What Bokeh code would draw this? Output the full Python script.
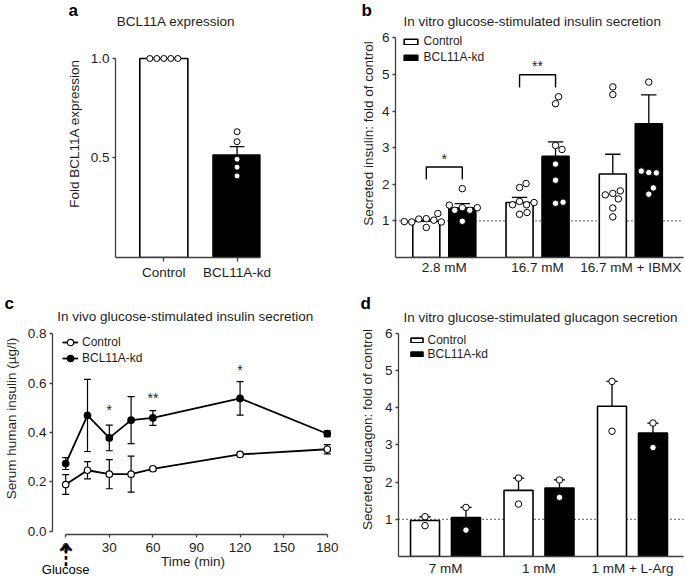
import numpy as np
from bokeh.plotting import figure
from bokeh.models import (Range1d, FixedTicker, PrintfTickFormatter, Label, Span,
                          Legend, LegendItem, LinearAxis)
from bokeh.layouts import column, row
from bokeh.embed import file_html
from bokeh.resources import INLINE
from bokeh.core.properties import value

FONT = "Liberation Sans"
TXT = "#1e1e1e"
AXC = "#404040"
FS = "13.5px"
LFS = "12px"

# ---------------- Panel a: BCL11A expression ----------------
a_categories = ["Control", "BCL11A-kd"]
a_mean = [1.0, 0.515]
a_sem = [0.0, 0.042]
a_points = [[1.0, 1.0, 1.0, 1.0, 1.0],
            [0.632, 0.582, 0.494, 0.454, 0.410]]
a_yticks = [0.5, 1.0]

# ---------------- Panel b: in vitro GSIS ----------------
b_categories = ["2.8 mM", "16.7 mM", "16.7 mM + IBMX"]
b_ctrl_mean = [0.99, 1.50, 2.28]
b_ctrl_sem = [0.04, 0.14, 0.54]
b_kd_mean = [1.36, 2.76, 3.65]
b_kd_sem = [0.11, 0.40, 0.79]
b_ctrl_points = [[1.06, 1.02, 1.05, 1.20, 0.97, 0.97, 0.98, 0.82],
                 [1.91, 2.02, 1.53, 1.44, 1.44, 1.50, 1.18, 1.23],
                 [4.66, 4.45, 1.75, 1.60, 1.71, 1.82, 1.35, 1.11]]
b_kd_points = [[1.88, 1.36, 1.29, 1.29, 1.36, 1.43, 0.99],
               [4.20, 4.39, 3.06, 2.95, 2.55, 2.11, 1.48, 1.51],
               [4.79, 2.32, 2.31, 2.36, 1.73, 1.90]]
b_sig_group = [0, 1]
b_sig_text = ["*", "**"]
b_sig_low = [2.14, 4.64]
b_sig_high = [2.47, 4.99]
b_sig_text_y = [2.68, 5.22]
b_yticks = [1, 2, 3, 4, 5, 6]

# ---------------- Panel c: in vivo GSIS ----------------
c_time = [0, 15, 30, 45, 60, 120, 180]
c_ctrl_mean = [0.189, 0.247, 0.231, 0.231, 0.253, 0.311, 0.332]
c_ctrl_sem = [0.040, 0.035, 0.059, 0.073, 0.008, 0.005, 0.019]
c_kd_mean = [0.274, 0.469, 0.378, 0.450, 0.459, 0.538, 0.395]
c_kd_sem = [0.024, 0.146, 0.052, 0.095, 0.030, 0.068, 0.012]
c_sig_time = [30, 60, 120]
c_sig_text = ["*", "**", "*"]
c_sig_y = [0.493, 0.538, 0.655]
c_xticks = [0, 30, 60, 90, 120, 150, 180]
c_yticks = [0.0, 0.2, 0.4, 0.6, 0.8]

# ---------------- Panel d: glucagon secretion ----------------
d_categories = ["7 mM", "1 mM", "1 mM + L-Arg"]
d_ctrl_mean = [0.97, 1.78, 4.04]
d_ctrl_sem = [0.10, 0.33, 0.67]
d_kd_mean = [1.05, 1.84, 3.32]
d_kd_sem = [0.27, 0.22, 0.27]
d_ctrl_points = [[1.07, 0.83], [2.11, 1.41], [4.71, 3.37]]
d_kd_points = [[1.32, 0.71], [2.06, 1.59], [3.59, 2.93]]
d_yticks = [1, 2, 3, 4, 5, 6]


# ---------------- helpers ----------------
def make_fig(W, H, bl, br, bt, bb, xr, yr, left, top):
    p = figure(width=W, height=H, x_range=Range1d(*xr), y_range=Range1d(*yr),
               output_backend="svg", toolbar_location=None,
               min_border_left=bl, min_border_right=br,
               min_border_top=bt, min_border_bottom=bb)
    p.outline_line_color = None
    p.xgrid.visible = False
    p.ygrid.visible = False
    p.background_fill_color = "white"
    p.border_fill_color = "white"
    for ax in (p.xaxis[0], p.yaxis[0]):
        ax.axis_line_color = AXC
        ax.axis_line_width = 1.3
        ax.major_tick_line_color = AXC
        ax.major_tick_line_width = 1.3
        ax.major_tick_in = 0
        ax.major_tick_out = 3
        ax.minor_tick_line_color = None
        ax.major_label_text_font = FONT
        ax.major_label_text_font_size = FS
        ax.major_label_text_color = TXT
        ax.major_label_standoff = 3
        ax.axis_label_text_font = FONT
        ax.axis_label_text_font_size = FS
        ax.axis_label_text_font_style = "normal"
        ax.axis_label_text_color = TXT
        ax.axis_label_standoff = 4
    fw = W - bl - br
    fh = H - bt - bb
    p._map = dict(kx=fw / (xr[1] - xr[0]), ky=fh / (yr[1] - yr[0]), x0=xr[0], y0=yr[0],
                  fl=left + bl, fb=top + H - bb)
    return p


def to_data(p, sx, sy):
    m = p._map
    return m["x0"] + (sx - m["fl"]) / m["kx"], m["y0"] + (m["fb"] - sy) / m["ky"]


def add_heading(p, sx, sy, text):
    x, y = to_data(p, sx, sy)
    p.add_layout(Label(x=x, y=y, text=text, text_font=FONT, text_font_size=FS,
                       text_align="center", text_baseline="middle", text_color=TXT))


def panel_letter(p, letter, left_px):
    t = p.title
    t.text = letter
    t.align = "left"
    t.offset = float(left_px - p._map["fl"])
    t.standoff = -21
    t.text_font = FONT
    t.text_font_size = "17px"
    t.text_font_style = "bold"
    t.text_color = "black"


def swarm(vals, kx, ky, diam):
    placed, offs = [], []
    for v in vals:
        sy = v * ky
        c = 0.0
        for j in range(0, 600):
            c = ((j + 1) // 2) * 0.5 * (1 if j % 2 == 1 else -1)
            if all((c - px) ** 2 + (sy - py) ** 2 >= diam ** 2 for px, py in placed):
                break
        placed.append((c, sy))
        offs.append(c / kx)
    return offs


def scatter_points(p, centers, pts, msize, lw=1.0):
    m = p._map
    xs, ys = [], []
    for xc, vals in zip(centers, pts):
        offs = swarm(vals, m["kx"], m["ky"], msize + 1.0)
        xs += [xc + o for o in offs]
        ys += list(vals)
    p.scatter(xs, ys, size=msize, marker="circle", fill_color="white",
              line_color="black", line_width=lw)


def up_errors(p, xs, mean, sem, capw, lw=1.3):
    xs = np.asarray(xs, dtype=float)
    mean = np.asarray(mean, dtype=float)
    top = mean + np.asarray(sem, dtype=float)
    p.segment(x0=xs, y0=mean, x1=xs, y1=top, line_color="black", line_width=lw)
    p.segment(x0=xs - capw / 2, y0=top, x1=xs + capw / 2, y1=top,
              line_color="black", line_width=lw)


def cat_axis(ax, labels, ticks):
    ax.ticker = FixedTicker(ticks=list(ticks))
    ax.major_label_overrides = {int(t): lab for t, lab in zip(ticks, labels)}


def make_legend(p, items, loc, gw, gh, lh, standoff):
    leg = Legend(items=items, location=loc, orientation="vertical",
                 label_text_font=FONT, label_text_font_size=LFS, label_text_color=TXT,
                 glyph_width=gw, glyph_height=gh, label_height=lh,
                 label_standoff=standoff, spacing=0, padding=0, margin=0,
                 border_line_color=None, background_fill_alpha=0)
    p.add_layout(leg)


def marker_axis(tick, text, font, size, standoff):
    ax = LinearAxis(ticker=FixedTicker(ticks=[tick]), major_label_overrides={tick: text})
    ax.axis_line_color = None
    ax.major_tick_line_color = None
    ax.minor_tick_line_color = None
    ax.major_tick_out = 0
    ax.major_tick_in = 0
    ax.major_label_standoff = standoff
    ax.major_label_text_font = font
    ax.major_label_text_font_size = size
    ax.major_label_text_color = "black"
    return ax


# ================= Panel a =================
WA, HA, BLA, BRA, BTA, BBA = 340, 290, 115, 80, 9, 33
pa = make_fig(WA, HA, BLA, BRA, BTA, BBA, (-0.66, 1.32), (0.0, 1.2462), 0, 0)
xa = np.arange(len(a_categories))
pa.vbar(x=xa[:1], top=a_mean[:1], bottom=0, width=0.656, fill_color="white",
        line_color="black", line_width=1.6)
pa.vbar(x=xa[1:], top=a_mean[1:], bottom=0, width=0.656, fill_color="black",
        line_color="black", line_width=1.6)
up_errors(pa, xa[1:], a_mean[1:], a_sem[1:], 0.2)
scatter_points(pa, xa, a_points, 6)
cat_axis(pa.xaxis[0], a_categories, xa)
pa.xaxis.major_tick_out = 4
pa.yaxis.ticker = FixedTicker(ticks=a_yticks)
pa.yaxis.formatter = PrintfTickFormatter(format="%.1f")
pa.yaxis.bounds = (0, 1.0)
pa.yaxis.axis_label = "Fold BCL11A expression"
pa.yaxis.axis_label_standoff = 6
add_heading(pa, 175.5, 20.7, "BCL11A expression")
panel_letter(pa, "a", 68)

# ================= Panel b =================
WB, HB, BLB, BRB, BTB, BBB = 345, 290, 55, 2, 9, 33
pb = make_fig(WB, HB, BLB, BRB, BTB, BBB, (-0.5233, 2.5652), (0.0, 6.772), 340, 0)
pb.add_layout(Span(location=1.0, dimension="width", line_color="black", line_width=1.4,
                   line_dash="1 3", level="underlay"))
xb = np.arange(len(b_categories))
OFFB, BWB = 0.193, 0.29
rcb = pb.vbar(x=xb - OFFB, top=b_ctrl_mean, bottom=0, width=BWB, fill_color="white",
              line_color="black", line_width=1.6)
rkb = pb.vbar(x=xb + OFFB, top=b_kd_mean, bottom=0, width=BWB, fill_color="black",
              line_color="black", line_width=1.6)
up_errors(pb, xb - OFFB, b_ctrl_mean, b_ctrl_sem, 0.165)
up_errors(pb, xb + OFFB, b_kd_mean, b_kd_sem, 0.165)
scatter_points(pb, xb - OFFB, b_ctrl_points, 6.5)
scatter_points(pb, xb + OFFB, b_kd_points, 6.5)
gx = np.asarray(b_sig_group, dtype=float)
pb.multi_line(xs=[[g - OFFB, g - OFFB, g + OFFB, g + OFFB] for g in gx],
              ys=[[lo, hi, hi, lo] for lo, hi in zip(b_sig_low, b_sig_high)],
              line_color="black", line_width=1.4)
pb.text(x=gx, y=b_sig_text_y, text=b_sig_text, text_font=value(FONT),
        text_font_size="14px", text_align="center", text_baseline="middle",
        text_color=TXT)
cat_axis(pb.xaxis[0], b_categories, xb)
pb.xaxis.major_tick_line_color = None
pb.xaxis.major_tick_out = 0
pb.xaxis.major_label_standoff = 2
pb.yaxis.ticker = FixedTicker(ticks=b_yticks)
pb.yaxis.bounds = (0, 6)
pb.yaxis.axis_label = "Secreted insulin: fold of control"
pb.yaxis.axis_label_standoff = 3
make_legend(pb, [LegendItem(label="Control", renderers=[rcb]),
                 LegendItem(label="BCL11A-kd", renderers=[rkb])],
            (6.6, 192), 17, 7, 16, 5)
add_heading(pb, 531.7, 20.7, "In vitro glucose-stimulated insulin secretion")
panel_letter(pb, "b", 361)

# ================= Panel c =================
WC, HC, BLC, BRC, BTC, BBC = 340, 294, 50, 7, 12, 50
pc = make_fig(WC, HC, BLC, BRC, BTC, BBC, (-9.09, 184.3), (-0.0134, 0.9268), 0, 290)
tc = np.asarray(c_time, dtype=float)
for mean, sem in ((c_ctrl_mean, c_ctrl_sem), (c_kd_mean, c_kd_sem)):
    mean = np.asarray(mean)
    sem = np.asarray(sem)
    pc.segment(x0=tc, y0=mean - sem, x1=tc, y1=mean + sem, line_color="black", line_width=1.2)
    for s in (-1, 1):
        pc.segment(x0=tc - 2.4, y0=mean + s * sem, x1=tc + 2.4, y1=mean + s * sem,
                   line_color="black", line_width=1.2)
lc = pc.line(tc, c_ctrl_mean, line_color="black", line_width=1.8)
lk = pc.line(tc, c_kd_mean, line_color="black", line_width=1.8)
sc = pc.scatter(tc, c_ctrl_mean, size=6.5, marker="circle", fill_color="white",
                line_color="black", line_width=1.2)
sk = pc.scatter(tc, c_kd_mean, size=6.5, marker="circle", fill_color="black",
                line_color="black", line_width=1.2)
pc.text(x=c_sig_time, y=c_sig_y, text=c_sig_text, text_font=value(FONT),
        text_font_size="14px", text_align="center", text_baseline="middle", text_color=TXT)
pc.xaxis.ticker = FixedTicker(ticks=c_xticks)
pc.xaxis.bounds = (0, 180)
pc.xaxis.major_label_standoff = 5
pc.xaxis.axis_label = "Time (min)"
pc.xaxis.axis_label_standoff = -1
pc.yaxis.ticker = FixedTicker(ticks=c_yticks)
pc.yaxis.formatter = PrintfTickFormatter(format="%.1f")
pc.yaxis.bounds = (0, 0.8)
pc.yaxis.axis_label = "Serum human insulin (µg/l)"
pc.yaxis.axis_label_standoff = 6
# glucose injection at t = 0: dashed arrow, then its label underneath
pc.add_layout(marker_axis(c_time[0], "\u21e1", "DejaVu Sans", "30px", -34), "below")
pc.add_layout(marker_axis(c_time[0], "Glucose", FONT, "13px", -14), "below")
make_legend(pc, [LegendItem(label="Control", renderers=[lc, sc]),
                 LegendItem(label="BCL11A-kd", renderers=[lk, sk])],
            (10, 168), 16, 16, 16, 4)
add_heading(pc, 183.7, 316, "In vivo glucose-stimulated insulin secretion")
panel_letter(pc, "c", 2)

# ================= Panel d =================
WD, HD, BLD, BRD, BTD, BBD = 345, 294, 58, 2, 12, 28
pd_ = make_fig(WD, HD, BLD, BRD, BTD, BBD, (-0.5027, 2.5455), (0.0, 6.833), 340, 290)
pd_.add_layout(Span(location=1.0, dimension="width", line_color="black", line_width=1.4,
                    line_dash="1 3", level="underlay"))
xd = np.arange(len(d_categories))
OFFD, BWD = 0.219, 0.31
rcd = pd_.vbar(x=xd - OFFD, top=d_ctrl_mean, bottom=0, width=BWD, fill_color="white",
               line_color="black", line_width=1.6)
rkd = pd_.vbar(x=xd + OFFD, top=d_kd_mean, bottom=0, width=BWD, fill_color="black",
               line_color="black", line_width=1.6)
up_errors(pd_, xd - OFFD, d_ctrl_mean, d_ctrl_sem, 0.12)
up_errors(pd_, xd + OFFD, d_kd_mean, d_kd_sem, 0.12)
scatter_points(pd_, xd - OFFD, d_ctrl_points, 6.5)
scatter_points(pd_, xd + OFFD, d_kd_points, 6.5)
cat_axis(pd_.xaxis[0], d_categories, xd)
pd_.xaxis.major_tick_line_color = None
pd_.xaxis.major_tick_out = 0
pd_.xaxis.major_label_standoff = 4
pd_.yaxis.ticker = FixedTicker(ticks=d_yticks)
pd_.yaxis.bounds = (0, 6)
pd_.yaxis.axis_label = "Secreted glucagon: fold of control"
pd_.yaxis.axis_label_standoff = 7
make_legend(pd_, [LegendItem(label="Control", renderers=[rcd]),
                  LegendItem(label="BCL11A-kd", renderers=[rkd])],
            (10.5, 195), 15, 6, 13, 4)
add_heading(pd_, 540, 316.7, "In vitro glucose-stimulated glucagon secretion")
panel_letter(pd_, "d", 360)

layout = column(row(pa, pb), row(column(pc), column(pd_)))
open("out.html", "w").write(file_html(layout, INLINE))
